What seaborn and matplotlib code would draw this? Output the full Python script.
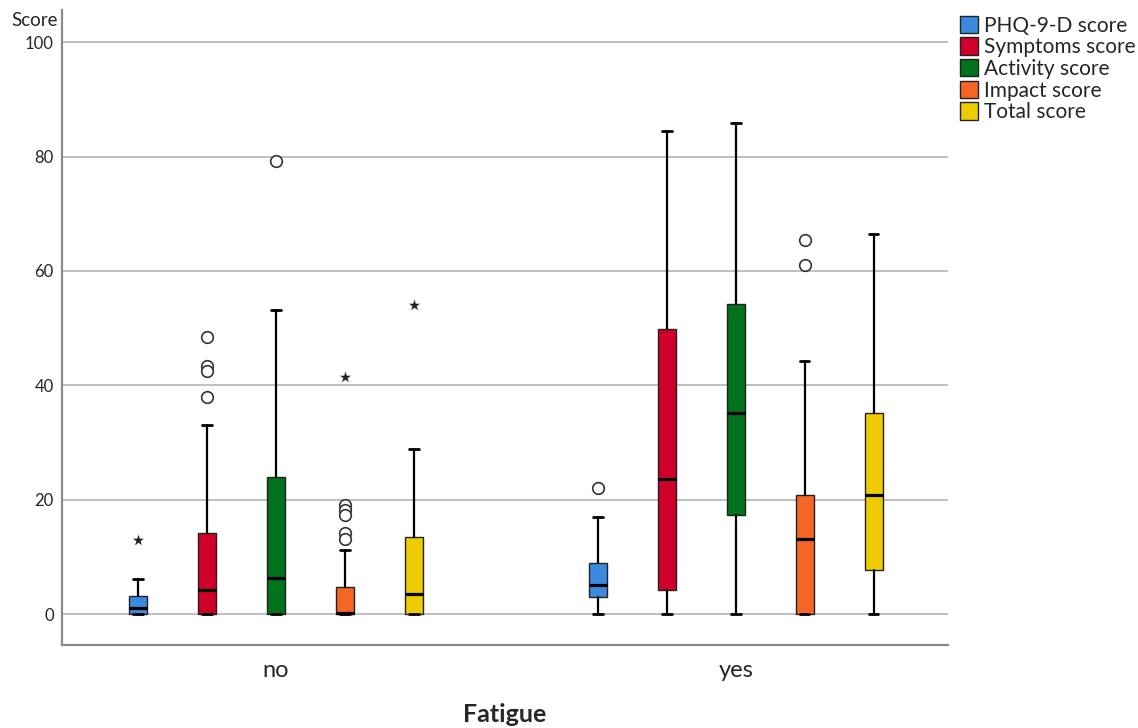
import numpy as np
import pandas as pd
import matplotlib
matplotlib.use("Agg")
import matplotlib.pyplot as plt
from matplotlib.patches import Patch
import seaborn as sns

groups = ["no", "yes"]
measures = ["PHQ-9-D score", "Symptoms score", "Activity score", "Impact score", "Total score"]
colors = ["#3A8AE0", "#CF0029", "#00731C", "#F46623", "#EDCB00"]

# box statistics, one list per group
whislo_no = [0, 0, 0, 0, 0]
q1_no = [0, 0, 0, 0, 0]
med_no = [1.1, 4.3, 6.3, 0.2, 3.6]
q3_no = [3.1, 14.1, 23.9, 4.7, 13.5]
whishi_no = [6.1, 33.0, 53.1, 11.2, 28.8]
outliers_no = [[], [48.4, 43.4, 42.5, 38.0], [79.2], [19.0, 18.2, 17.3, 14.1, 13.2], []]
extremes_no = [[12.9], [], [], [41.5], [54.1]]

whislo_yes = [0, 0, 0, 0, 0]
q1_yes = [2.95, 4.2, 17.4, 0, 7.8]
med_yes = [5.1, 23.6, 35.2, 13.2, 20.8]
q3_yes = [9.0, 49.8, 54.3, 20.8, 35.1]
whishi_yes = [17.0, 84.5, 85.8, 44.3, 66.4]
outliers_yes = [[22.0], [], [], [65.4, 61.0], []]
extremes_yes = [[], [], [], [], []]

yticks = [0, 20, 40, 60, 80, 100]

stats_by_group = {
    "no": (whislo_no, q1_no, med_no, q3_no, whishi_no, outliers_no, extremes_no),
    "yes": (whislo_yes, q1_yes, med_yes, q3_yes, whishi_yes, outliers_yes, extremes_yes),
}

sns.set_theme(style="white")
plt.rcParams["font.family"] = ["Lato", "DejaVu Sans"]

fig = plt.figure(figsize=(11.38, 7.28), dpi=100)
ax = fig.add_axes([0.0545, 0.114, 0.7785, 0.872])

hue_step = 0.15
box_w = 0.04
n = len(measures)

stats = []
positions = []
face = []
pts = []
for gi, g in enumerate(groups):
    lo, q1, med, q3, hi, outl, extr = stats_by_group[g]
    for mi in range(n):
        pos = gi + (mi - (n - 1) / 2) * hue_step
        stats.append(dict(whislo=lo[mi], q1=q1[mi], med=med[mi], q3=q3[mi],
                          whishi=hi[mi], fliers=[]))
        positions.append(pos)
        face.append(colors[mi])
        for v in outl[mi]:
            pts.append((pos, v, "outlier"))
        for v in extr[mi]:
            pts.append((pos, v, "extreme"))

bp = ax.bxp(stats, positions=positions, widths=box_w, patch_artist=True,
            showfliers=False, capwidths=box_w * 0.5,
            boxprops=dict(edgecolor="#222222", linewidth=1.0),
            medianprops=dict(color="black", linewidth=2.3),
            whiskerprops=dict(color="black", linewidth=1.6),
            capprops=dict(color="black", linewidth=2.0))
for patch, c in zip(bp["boxes"], face):
    patch.set_facecolor(c)

pdf = pd.DataFrame(pts, columns=["x", "y", "kind"])
sns.scatterplot(data=pdf[pdf.kind == "outlier"], x="x", y="y", ax=ax, marker="o",
                s=70, facecolor="white", edgecolor="#333333", linewidth=1.2,
                legend=False, zorder=5)
sns.scatterplot(data=pdf[pdf.kind == "extreme"], x="x", y="y", ax=ax, marker="*",
                s=70, color="#222222", linewidth=0, legend=False, zorder=5)

ax.set_xlim(-0.465, 1.461)
ax.set_ylim(-5.4, 105.6)
ax.set_yticks(yticks)
ax.set_yticklabels([str(t) for t in yticks], fontsize=12)
ax.set_xticks(range(len(groups)))
ax.set_xticklabels(groups, fontsize=17)
ax.tick_params(axis="both", length=0)
ax.tick_params(axis="x", pad=11)
ax.tick_params(axis="y", pad=6)
for t in yticks:
    ax.axhline(t, color="#B4B4B4", linewidth=1.2, zorder=0)

for s in ["top", "right"]:
    ax.spines[s].set_visible(False)
for s in ["left", "bottom"]:
    ax.spines[s].set_color("#8A8A8A")
    ax.spines[s].set_linewidth(1.6)

ax.set_xlabel("Fatigue", fontsize=18, fontweight="bold")
ax.xaxis.set_label_coords(0.5, -0.091)
ax.set_ylabel("")
ax.text(-0.005, 0.984, "Score", transform=ax.transAxes, ha="right", va="center",
        fontsize=13.5)

handles = [Patch(facecolor=c, edgecolor="#222222", linewidth=1.0) for c in colors]
fig.legend(handles, measures, loc="upper left", bbox_to_anchor=(0.836, 0.99),
           frameon=False, fontsize=15, handlelength=0.9, handleheight=0.9,
           handletextpad=0.25, labelspacing=0.08, borderaxespad=0)

fig.savefig("out.png", dpi=100)
